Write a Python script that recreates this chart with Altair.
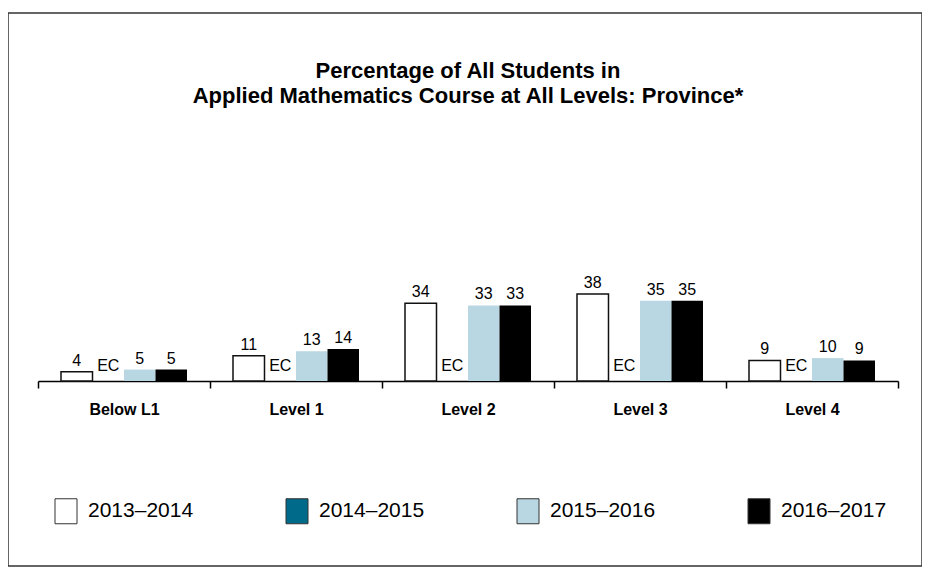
import altair as alt
import pandas as pd

levels = ["Below L1", "Level 1", "Level 2", "Level 3", "Level 4"]
years = ["2013–2014", "2014–2015", "2015–2016", "2016–2017"]
v2013 = [4, 11, 34, 38, 9]
v2014 = [None, None, None, None, None]  # EC
v2015 = [5, 13, 33, 35, 10]
v2016 = [5, 14, 33, 35, 9]
colors = ["#ffffff", "#006a8a", "#b9d7e2", "#000000"]
series = [v2013, v2014, v2015, v2016]

rows = []
for y, vals in zip(years, series):
    for lv, v in zip(levels, vals):
        rows.append({"level": lv, "year": y, "value": v,
                     "label": "EC" if v is None else str(v)})
df = pd.DataFrame(rows)
FONT = "Liberation Sans"

base = alt.Chart(df).encode(
    x=alt.X("level:N", sort=levels,
            scale=alt.Scale(paddingInner=0, paddingOuter=0),
            axis=alt.Axis(title=None, labelFont=FONT, labelFontSize=16,
                          labelFontWeight="bold", labelColor="black",
                          labelPadding=13, tickSize=7, tickColor="black",
                          tickWidth=1.5, domainColor="black", domainWidth=1.5,
                          tickBand="extent", labelAngle=0)),
    xOffset=alt.XOffset("year:N", sort=years,
                        scale=alt.Scale(domain=years, paddingInner=0, paddingOuter=0.73)),
)

bars = base.transform_filter("isValid(datum.value)").mark_bar(strokeWidth=1.5).encode(
    y=alt.Y("value:Q", scale=alt.Scale(domain=[0, 100]), axis=None),
    color=alt.Color("year:N", sort=years,
                    scale=alt.Scale(domain=years, range=colors),
                    legend=alt.Legend(title=None, orient="none", legendX=15, legendY=346,
                                      direction="horizontal", columns=4,
                                      columnPadding=90,
                                      symbolType="M-0.88,-1H0.88V1H-0.88Z",
                                      symbolSize=625, symbolStrokeColor="#333",
                                      symbolStrokeWidth=1, symbolOpacity=1,
                                      labelFont=FONT, labelFontSize=21,
                                      labelColor="black", labelOffset=9,
                                      labelLimit=200)),
    stroke=alt.condition("datum.year == '2013–2014'", alt.value("#111"), alt.value(None)),
)

vals = base.transform_filter("isValid(datum.value)").mark_text(
    baseline="bottom", dy=-3, font=FONT, fontSize=16, color="black"
).encode(y=alt.Y("value:Q"), text="label:N")

ec = base.transform_filter("!isValid(datum.value)").mark_text(
    baseline="bottom", dy=-7, font=FONT, fontSize=16, color="black"
).encode(y=alt.datum(0), text="label:N")

frame = alt.Chart(pd.DataFrame({"a": [0]})).mark_rect(
    fill=None, stroke="#333", strokeWidth=1.5
).encode(x=alt.value(-30), x2=alt.value(884), y=alt.value(-139), y2=alt.value(414))

chart = alt.layer(frame, bars, vals, ec).properties(
    width=860, height=229,
    background="white",
    title=alt.TitleParams(
        text=["Percentage of All Students in",
              "Applied Mathematics Course at All Levels: Province*"],
        font=FONT, fontSize=22, fontWeight="bold", color="black",
        anchor="middle", offset=-96, lineHeight=25),
    autosize=alt.AutoSizeParams(type="none"),
    padding={"left": 30, "top": 144, "right": 24, "bottom": 190},
).configure_view(stroke=None)

chart.save("out.html", embed_options={"renderer": "svg", "actions": False})
